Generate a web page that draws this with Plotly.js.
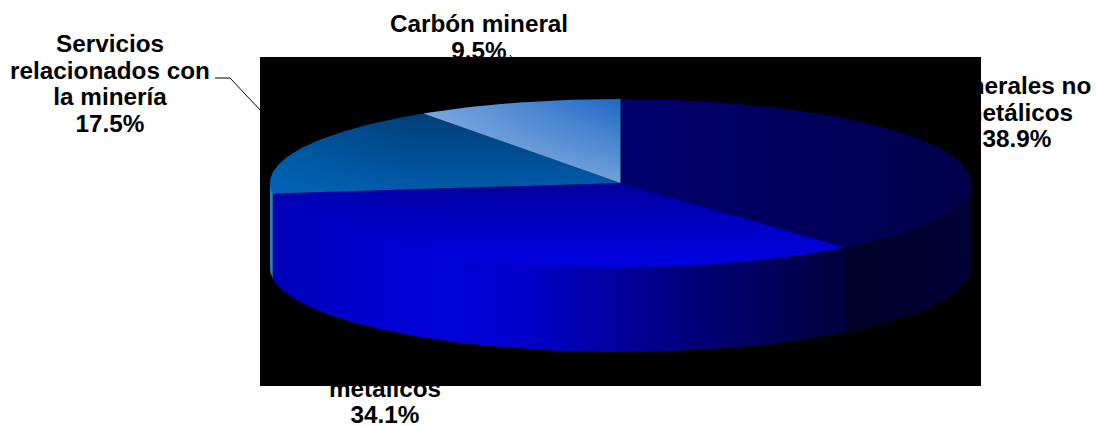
<!DOCTYPE html>
<html>
<head>
<meta charset="utf-8">
<script src="https://cdn.plot.ly/plotly-3.0.1.min.js"></script>
<style>html,body{margin:0;padding:0;background:#fff}#chart{width:1097px;height:426px}</style>
</head>
<body>
<div id="chart"></div>
<script>
// Mining output by branch, percent share
const categories = ["Minerales no metálicos", "Minerales metálicos", "Servicios relacionados con la minería", "Carbón mineral"];
const shares = [38.9, 34.1, 17.5, 9.5];
const labelLines = [
  ["Minerales no", "metálicos"],
  ["Minerales", "metálicos"],
  ["Servicios", "relacionados con", "la minería"],
  ["Carbón mineral"]
];

// Tilted disc geometry, in page pixels
const disc = {cx: 620.5, cy: 183, rx: 350.5, ry: 84, depth: 85};
const stage = {x0: 260, x1: 981, y0: 57, y1: 386};
const labelStarts = [[1017, 88], [385, 364], [110, 46], [479, 26]];
const linePitch = 26.7;
const font = {family: '"Liberation Sans", Arial, sans-serif', size: 24.3, color: '#000'};

// Base fill for each wedge top, plus a horizontal tint laid over it
const topFills = [
  {type: 'horizontal', scale: [[0, '#00006e'], [1, '#00004c']]},
  {type: 'vertical', scale: [[0, '#00009a'], [0.5, '#0000c6'], [1, '#0000e2']],
   tint: [[0, 'rgba(0,0,200,0.45)'], [0.35, 'rgba(0,0,200,0)'], [1, 'rgba(0,0,200,0)']]},
  {type: 'vertical', scale: [[0, '#003f78'], [1, '#005cac']],
   tint: [[0, 'rgba(0,110,200,0.4)'], [0.4, 'rgba(0,110,200,0)'], [1, 'rgba(0,110,200,0)']]},
  {type: 'vertical', scale: [[0, '#1f68c4'], [1, '#70a0dc']],
   tint: [[0, 'rgba(165,195,235,0.65)'], [1, 'rgba(165,195,235,0)']]}
];
const wallScales = [
  [[0, '#000028'], [1, '#000036']],
  [[0, '#0000b8'], [0.17, '#0000d0'], [0.31, '#0000da'], [0.45, '#0000c8'], [0.6, '#0000a0'], [0.74, '#000078'], [1, '#00003e']],
  [[0, '#2f7ec0'], [1, '#2f7ec0']]
];

const rad = d => d * Math.PI / 180;
const rimX = a => disc.cx + disc.rx * Math.sin(rad(a));
const rimY = (a, drop) => disc.cy - disc.ry * Math.cos(rad(a)) + (drop || 0);
const steps = (a0, a1) => {
  const n = Math.max(2, Math.ceil(Math.abs(a1 - a0)));
  return Array.from({length: n + 1}, (_, i) => a0 + (a1 - a0) * i / n);
};

// Cumulative clockwise angles from twelve o'clock
const total = shares.reduce((s, v) => s + v, 0);
const edges = shares.reduce((acc, v) => acc.concat(acc[acc.length - 1] + v / total * 360), [0]);

const patch = (name, x, y, type, colorscale) => {
  const span = type === 'vertical' ? y : x;
  return {
    type: 'scatter', mode: 'lines', name, x, y,
    fill: 'toself', line: {width: 0}, hoverinfo: 'skip',
    fillgradient: {type, colorscale, start: Math.min(...span), stop: Math.max(...span)}
  };
};

// Labels go first so the black stage covers whatever overlaps it
const textX = [], textY = [], textS = [];
categories.forEach((_, i) => {
  labelLines[i].concat(shares[i].toFixed(1) + '%').forEach((line, k) => {
    textX.push(labelStarts[i][0]);
    textY.push(labelStarts[i][1] + k * linePitch);
    textS.push('<b>' + line + '</b>');
  });
});
const labelTrace = {
  type: 'scatter', mode: 'text', x: textX, y: textY, text: textS,
  textposition: 'middle center', textfont: font,
  hoverinfo: 'skip', cliponaxis: false
};
const leaders = {
  type: 'scatter', mode: 'lines',
  x: [215, 230, 262, null, 510, 512],
  y: [78, 78, 112, null, 55, 58],
  line: {color: '#000', width: 1}, hoverinfo: 'skip'
};
const stageTrace = {
  type: 'scatter', mode: 'lines',
  x: [stage.x0, stage.x1, stage.x1, stage.x0, stage.x0],
  y: [stage.y0, stage.y0, stage.y1, stage.y1, stage.y0],
  fill: 'toself', fillcolor: '#000', line: {width: 0}, hoverinfo: 'skip'
};

// Visible wall runs along the front half of the rim, from 90 to 270 degrees.
// Its upper edge tucks under the top face so no dark seam shows between them.
const walls = [];
shares.forEach((_, i) => {
  const a0 = Math.max(edges[i], 90), a1 = Math.min(edges[i + 1], 270);
  if (a1 <= a0) return;
  const arc = steps(a0, a1);
  const x = arc.map(rimX).concat(arc.slice().reverse().map(rimX));
  const y = arc.map(a => rimY(a, disc.depth)).concat(arc.slice().reverse().map(a => rimY(a, -1.5)));
  walls.push(patch(categories[i] + ' wall', x, y, 'horizontal', wallScales[i]));
});

const tops = [];
shares.forEach((_, i) => {
  const arc = steps(edges[i], edges[i + 1]);
  const x = [disc.cx].concat(arc.map(rimX), disc.cx);
  const y = [disc.cy].concat(arc.map(a => rimY(a)), disc.cy);
  tops.push(patch(categories[i], x, y, topFills[i].type, topFills[i].scale));
  if (topFills[i].tint) tops.push(patch(categories[i] + ' tint', x, y, 'horizontal', topFills[i].tint));
});

Plotly.newPlot('chart', [labelTrace, leaders, stageTrace, ...walls, ...tops], {
  width: 1097, height: 426,
  margin: {l: 0, r: 0, t: 0, b: 0},
  paper_bgcolor: '#fff', plot_bgcolor: '#fff',
  showlegend: false,
  xaxis: {range: [0, 1097], visible: false, fixedrange: true},
  yaxis: {range: [426, 0], visible: false, fixedrange: true}
}, {displayModeBar: false, staticPlot: true});
</script>
</body>
</html>
